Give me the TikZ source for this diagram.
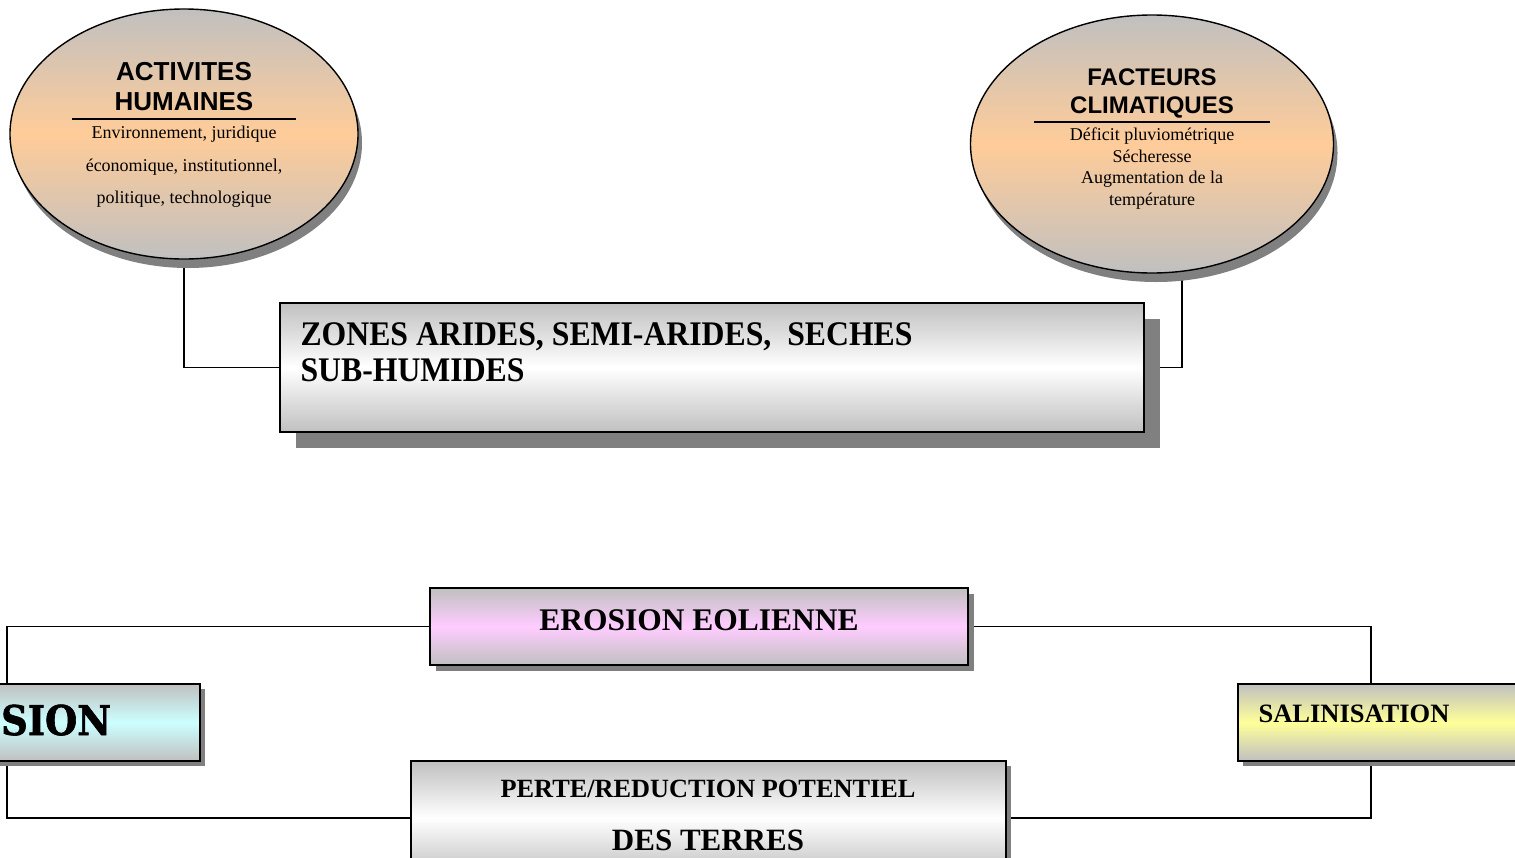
\documentclass[tikz,border=0pt]{standalone}
\usepackage{fontspec}
\setmainfont{Liberation Serif}
\newfontfamily\arialfont{Liberation Sans}
\newfontfamily\zonesfont[FakeStretch=0.92]{Liberation Serif}
\newfontfamily\sionfont[FakeBold=1.5,FakeStretch=0.9]{DejaVu Serif}
\usetikzlibrary{shapes.geometric,shadows,backgrounds}

\definecolor{grisclair}{HTML}{C0C0C0}
\definecolor{grisombre}{HTML}{808080}
\definecolor{peche}{HTML}{FFCC99}
\definecolor{rose}{HTML}{FFCCFF}
\definecolor{cyanpale}{HTML}{CCFFFF}
\definecolor{jaune}{HTML}{FFFF99}

\tikzset{
  ombree/.style={drop shadow={shadow xshift=#1pt,shadow yshift=-#1pt,fill=grisombre,opacity=1}},
  bulle/.style={ellipse,draw,line width=1.4pt,inner sep=0pt,outer sep=0pt,
    top color=grisclair,bottom color=grisclair,middle color=peche,
    drop shadow={shadow xshift=4pt,shadow yshift=-9pt,fill=grisombre,opacity=1}},
  boite/.style={rectangle,draw,line width=1.8pt,inner sep=0pt,outer sep=0pt,
    top color=grisclair,bottom color=grisclair,middle color=#1},
  lien/.style={line width=1.8pt},
  titre/.style={anchor=base,font=\arialfont\bfseries\fontsize{#1}{#1}\selectfont},
  corps/.style={anchor=base,font=\fontsize{18}{18}\selectfont},
  gras/.style={font=\bfseries\fontsize{#1}{#1}\selectfont}
}

\begin{document}
\begin{tikzpicture}[x=1pt,y=-1pt]

\useasboundingbox (0,0) rectangle (1515,857);
\clip (0,0) rectangle (1515,857);

% facteurs
\node[bulle,minimum width=348pt,minimum height=250pt] (act) at (184,134) {};
\node[bulle,minimum width=363pt,minimum height=258pt] (fac) at (1152,144) {};

\node[titre=26] (act1) at (184,80) {ACTIVITES};
\node[titre=26] (act2) at (184,110) {HUMAINES};
\draw[line width=1.4pt] (72,119) -- (296,119);
\node[corps] (act3) at (184,138) {Environnement, juridique};
\node[corps] (act4) at (184,171) {économique, institutionnel,};
\node[corps] (act5) at (184,203) {politique, technologique};

\node[titre=24] (fac1) at (1152,85) {FACTEURS};
\node[titre=24] (fac2) at (1152,113) {CLIMATIQUES};
\draw[line width=1.4pt] (1034,122) -- (1270,122);
\node[corps] (fac3) at (1152,140) {Déficit pluviométrique};
\node[corps] (fac4) at (1152,162) {Sécheresse};
\node[corps] (fac5) at (1152,183) {Augmentation de la};
\node[corps] (fac6) at (1152,205) {température};

% zones
\node[boite=white,ombree=16,minimum width=864pt,minimum height=129pt] (zones) at (712,367.5) {};
\node[anchor=base west,font=\zonesfont\bfseries\fontsize{34.5}{34.5}\selectfont]
  (zones1) at (297,345) {ZONES ARIDES, SEMI-ARIDES,\ \ SECHES};
\node[anchor=base west,font=\zonesfont\bfseries\fontsize{34.5}{34.5}\selectfont]
  (zones2) at (297,381) {SUB-HUMIDES};

% consequences
\node[boite=rose,ombree=6,minimum width=538pt,minimum height=77pt] (ero) at (699,626.5) {};
\node[gras=31.5,anchor=base] (erot) at (699,630) {EROSION EOLIENNE};

\node[boite=cyanpale,ombree=5,minimum width=386pt,minimum height=77pt] (sion) at (7,722.5) {};
\node[anchor=base west,inner xsep=0pt,font=\sionfont\bfseries\fontsize{41}{41}\selectfont] (siont) at (1,735) {SION};

\node[boite=jaune,ombree=5,minimum width=300pt,minimum height=77pt] (sal) at (1388,722.5) {};
\node[gras=26.5,anchor=base west] (salt) at (1255,722) {SALINISATION};

\node[boite=white,ombree=5,minimum width=595pt,minimum height=114pt] (perte) at (708.5,818) {};
\node[gras=26.3,anchor=base] (perte1) at (708,797) {PERTE/REDUCTION POTENTIEL};
\node[gras=31,anchor=base] (perte2) at (708,850) {DES TERRES};

\begin{scope}[on background layer]
\draw[lien] (act) |- (zones.west);
\draw[lien] ([xshift=30pt]fac.center) |- (zones.east);
\draw[lien] (ero.west) -| (sion.north);
\draw[lien] (ero.east) -| ([xshift=133pt]sal.north west);
\draw[lien] (sion.south) |- (perte.west);
\draw[lien] ([xshift=133pt]sal.south west) |- (perte.east);
\end{scope}

\end{tikzpicture}
\end{document}
